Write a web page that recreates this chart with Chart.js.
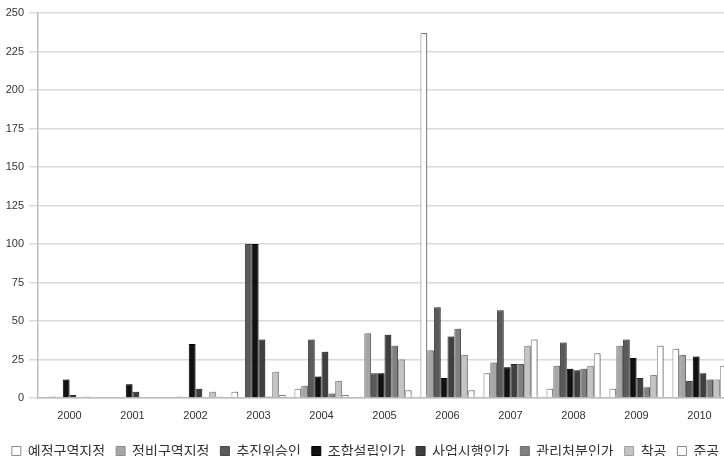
<!DOCTYPE html>
<html>
<head>
<meta charset="utf-8">
<script src="https://cdn.jsdelivr.net/npm/chart.js@4"></script>
<style>
  html, body { margin: 0; padding: 0; background: #fff; overflow: hidden; }
  #wrap { position: absolute; left: 0; top: 0; width: 731px; height: 468px; }
</style>
</head>
<body>
<div id="wrap"><canvas id="myChart" width="731" height="468"></canvas></div>
<script>
// years on the x axis
var years = ['2000', '2001', '2002', '2003', '2004', '2005', '2006', '2007', '2008', '2009', '2010'];
var seriesNames = ['예정구역지정', '정비구역지정', '추진위승인', '조합설립인가', '사업시행인가', '관리처분인가', '착공', '준공'];

// values, one array per stage
var yejeong   = [0, 0, 0, 4, 6, 0, 237, 16, 6, 6, 32];
var jeongbi   = [1, 0, 1, 0, 8, 42, 31, 23, 21, 34, 28];
var chujin    = [0, 0, 0, 100, 38, 16, 59, 57, 36, 38, 11];
var johap     = [12, 9, 35, 100, 14, 16, 13, 20, 19, 26, 27];
var saeop     = [2, 4, 6, 38, 30, 41, 40, 22, 18, 13, 16];
var gwanri    = [0, 0, 0, 1, 3, 34, 45, 22, 19, 7, 12];
var chakgong  = [1, 0, 4, 17, 11, 25, 28, 34, 21, 15, 12];
var jungong   = [0, 0, 1, 2, 2, 5, 5, 38, 29, 34, 21];

var yTicks = [0, 25, 50, 75, 100, 125, 150, 175, 200, 225, 250];

var fills   = ['#ffffff', '#a6a6a6', '#5a5a5a', '#111111', '#3f3f3f', '#808080', '#c4c4c4', '#ffffff'];
var borders = ['#8c8c8c', '#8f8f8f', '#4a4a4a', '#000000', '#2f2f2f', '#6e6e6e', '#a0a0a0', '#8c8c8c'];
var allData = [yejeong, jeongbi, chujin, johap, saeop, gwanri, chakgong, jungong];

var datasets = [];
for (var i = 0; i < allData.length; i++) {
    datasets.push({
        label: seriesNames[i],
        data: allData[i],
        backgroundColor: fills[i],
        borderColor: borders[i],
        borderWidth: 1,
        borderSkipped: 'bottom',
        categoryPercentage: 0.86,
        barPercentage: 1.0
    });
}

// excel-like drop shadow under the bars
var barShadow = {
    id: 'barShadow',
    beforeDatasetsDraw: function(chart) {
        var c = chart.ctx;
        c.save();
        c.shadowColor = 'rgba(0,0,0,0.35)';
        c.shadowBlur = 3;
        c.shadowOffsetX = 2;
        c.shadowOffsetY = -1;
    },
    afterDatasetsDraw: function(chart) {
        chart.ctx.restore();
    }
};

var ctx = document.getElementById('myChart').getContext('2d');
var myChart = new Chart(ctx, {
    type: 'bar',
    data: { labels: years, datasets: datasets },
    plugins: [barShadow],
    options: {
        responsive: false,
        animation: false,
        layout: { autoPadding: false, padding: { top: 13, left: 0, right: 0, bottom: 0 } },
        plugins: {
            tooltip: { enabled: false },
            legend: {
                position: 'bottom',
                labels: {
                    boxWidth: 9,
                    boxHeight: 9,
                    padding: 11,
                    color: '#333',
                    font: { family: '"Noto Sans CJK KR", sans-serif', size: 14 }
                }
            }
        },
        scales: {
            x: {
                grid: { display: false, drawTicks: false },
                border: { color: '#bdbdbd', width: 1.5 },
                ticks: {
                    padding: 11,
                    color: '#333',
                    font: { family: '"Liberation Sans", sans-serif', size: 11 }
                },
                afterFit: function(scale) { scale.height = 35; }
            },
            y: {
                min: 0,
                max: 250,
                afterBuildTicks: function(scale) {
                    scale.ticks = yTicks.map(function(v) { return { value: v }; });
                },
                grid: { color: '#d9d9d9', lineWidth: 1.5, drawTicks: true, tickLength: 9, tickColor: '#dcdcdc' },
                border: { color: '#bdbdbd', width: 1.5 },
                ticks: {
                    padding: 5,
                    color: '#333',
                    font: { family: '"Liberation Sans", sans-serif', size: 11 }
                },
                afterFit: function(scale) { scale.width = 38; }
            }
        }
    }
});
</script>
</body>
</html>
